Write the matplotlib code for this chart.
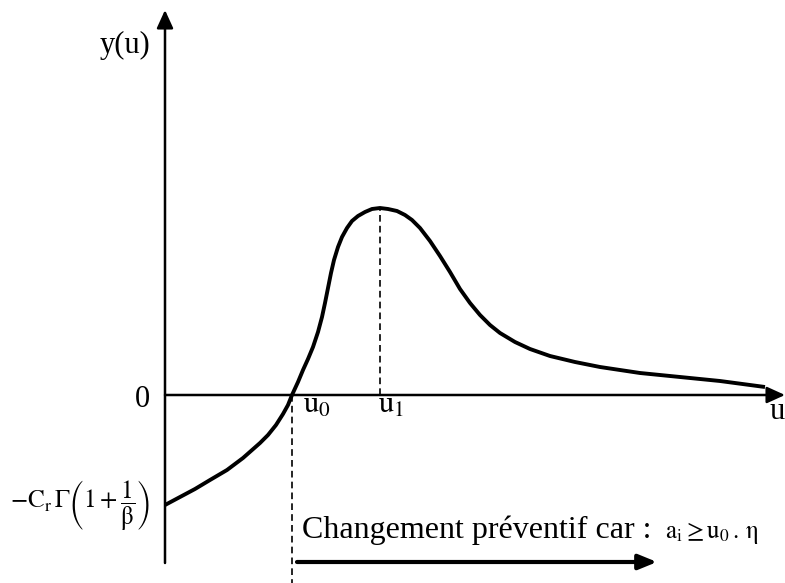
import matplotlib
matplotlib.use("Agg")
import matplotlib.pyplot as plt

plt.rcParams['font.family'] = 'Liberation Serif'
plt.rcParams['mathtext.fontset'] = 'stix'

u_vals = [0.00, 0.15, 0.30, 0.45, 0.62, 0.78, 0.95, 1.03, 1.11, 1.18,
          1.23, 1.27, 1.33, 1.38, 1.43, 1.48, 1.53, 1.57, 1.60, 1.63,
          1.66, 1.69, 1.73, 1.77, 1.82, 1.87, 1.93, 2.00, 2.07, 2.15,
          2.23, 2.32, 2.40, 2.47, 2.55, 2.65, 2.75, 2.85, 2.95, 3.05,
          3.15, 3.25, 3.35, 3.50, 3.65, 3.85, 4.10, 4.35, 4.75, 5.15,
          5.55, 6.00]
y_vals = [-1.10, -1.02, -0.94, -0.85, -0.75, -0.63, -0.48, -0.40, -0.30, -0.19,
          -0.10, 0.00, 0.13, 0.25, 0.36, 0.48, 0.63, 0.78, 0.92, 1.07,
          1.22, 1.35, 1.48, 1.58, 1.67, 1.74, 1.79, 1.83, 1.86, 1.87,
          1.86, 1.84, 1.80, 1.75, 1.67, 1.54, 1.39, 1.23, 1.06, 0.92,
          0.80, 0.70, 0.62, 0.53, 0.46, 0.39, 0.33, 0.28, 0.22, 0.18,
          0.14, 0.08]

u0 = 1.27      # zero crossing
u1 = 2.15      # maximum
y_peak = 1.87
y_start = -1.10  # value at u = 0

u_axis_end = 6.20
y_axis_top = 3.85
y_axis_bottom = -1.68

fig = plt.figure(figsize=(7.85, 5.83), dpi=100)
ax = fig.add_axes([0, 0, 1, 1])
ax.set_xlim(-1.65, 6.20)
ax.set_ylim(-1.88, 3.95)
ax.axis('off')

axis_arrow = dict(arrowstyle='-|>,head_length=1.1,head_width=0.5', mutation_scale=10,
                  lw=1.8, color='black', shrinkA=0, shrinkB=0)
# y axis
ax.annotate('', xy=(0, y_axis_top), xytext=(0, y_axis_bottom), arrowprops=axis_arrow)
# u axis
ax.annotate('', xy=(u_axis_end, 0), xytext=(0, 0), arrowprops=axis_arrow)

# the curve
ax.plot(u_vals, y_vals, color='black', lw=2.8, solid_capstyle='butt',
        solid_joinstyle='round')

# dashed guides at u0 and u1
ax.plot([u0, u0], [0, -1.88], color='black', lw=1.2, linestyle=(0, (4, 2.5)))
ax.plot([u1, u1], [0, y_peak], color='black', lw=1.2, linestyle=(0, (4, 2.5)))

# labels
ax.text(-0.15, 3.42, 'y(u)', fontsize=22, ha='right', va='baseline')
ax.text(-0.15, -0.12, '0', fontsize=22, ha='right', va='baseline')
ax.text(u0 + 0.11, -0.18, r'$\mathrm{u}_0$', fontsize=22, ha='left', va='baseline')
ax.text(u1 - 0.02, -0.18, r'$\mathrm{u}_1$', fontsize=22, ha='left', va='baseline')
ax.text(6.05, -0.24, 'u', fontsize=22, ha='left', va='baseline')
ax.text(-0.15, y_start,
        r'$-\mathrm{C}_\mathrm{r}\,\Gamma\left(1+\dfrac{1}{\mathrm{\beta}}\right)$',
        fontsize=18, ha='right', va='center')

# preventive replacement zone
ax.text(u0 + 0.10, -1.43, 'Changement préventif car :', fontsize=23,
        ha='left', va='baseline')
ax.text(5.00, -1.43, r'$\mathrm{a_i} \geq \mathrm{u_0}\,.\,\mathrm{\eta}$', fontsize=18,
        ha='left', va='baseline')
ax.annotate('', xy=(4.92, -1.67), xytext=(u0 + 0.05, -1.67),
            arrowprops=dict(arrowstyle='-|>,head_length=1.1,head_width=0.45',
                            mutation_scale=10, lw=3, color='black',
                            shrinkA=0, shrinkB=0))

fig.savefig('out.png', dpi=100)
